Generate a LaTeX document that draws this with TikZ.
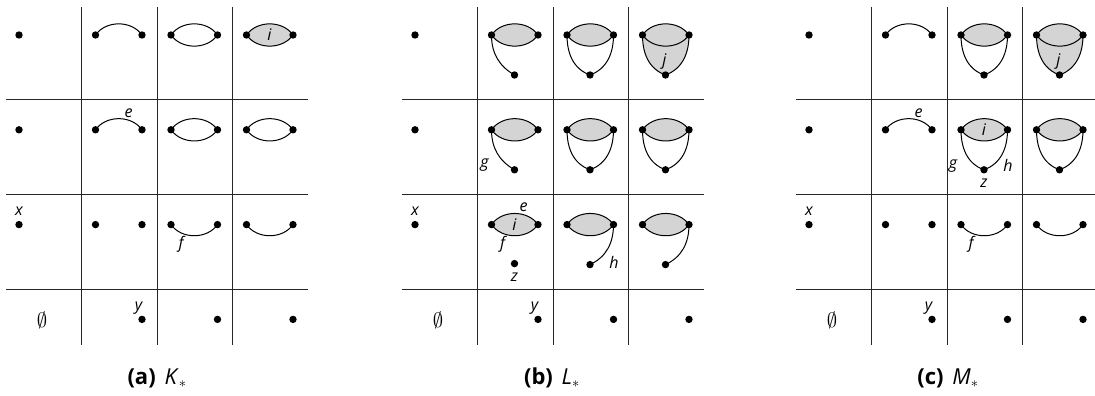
\documentclass[tikz,border=0pt]{standalone}
\usepackage{fontspec}
\setmainfont{Open Sans}
\usetikzlibrary{positioning}
\pgfdeclarelayer{bg}
\pgfsetlayers{bg,main}
\definecolor{lensgray}{gray}{0.83}
\newcommand\lblfont{\fontsize{16}{18}\selectfont\itshape}
\tikzset{
  dot/.style={circle,fill=black,inner sep=0pt,minimum size=7.4pt},
  edge/.style={line width=1pt},
  rule/.style={line width=1pt,black!85},
  lbl/.style={font=\lblfont,inner sep=0pt},
  caption/.style={font=\fontsize{22}{26}\selectfont,inner sep=0pt},
  cell/.style n args={3}{shift={({#1+75.5*#2},{391-94.8*#3})}},
}
% cell contents (local coordinates of one cell)
\newcommand\onedot{\node[dot] (s) at (13,-30) {};}
\newcommand\rightdot{\node[dot] (s) at (60.5,-30) {};}
\newcommand\lowdot{\node[dot] (b) at (37,-70) {};}
\newcommand\twodots{\node[dot] (l) at (14,-30) {}; \node[dot] (r) at (60.5,-30) {};}
\newcommand\uparc{\twodots
  \begin{pgfonlayer}{bg}\draw[edge] (l.center) to[bend left=55] (r.center);\end{pgfonlayer}}
\newcommand\downarc{\twodots
  \begin{pgfonlayer}{bg}\draw[edge] (l.center) to[bend right=55] (r.center);\end{pgfonlayer}}
\newcommand\openlens{\twodots
  \begin{pgfonlayer}{bg}\draw[edge] (l.center) to[bend left=55] (r.center) to[bend left=55] (l.center);\end{pgfonlayer}}
\newcommand\graylens{\twodots
  \begin{pgfonlayer}{bg}\filldraw[edge,fill=lensgray] (l.center) to[bend left=55] (r.center) to[bend left=55] (l.center);\end{pgfonlayer}}
\newcommand\hookleft{\graylens\lowdot
  \begin{pgfonlayer}{bg}\draw[edge] (l.center) to[out=-90,in=150] (b.center);\end{pgfonlayer}}
\newcommand\hookright{\graylens\lowdot
  \begin{pgfonlayer}{bg}\draw[edge] (r.center) to[out=-90,in=25] (b.center);\end{pgfonlayer}}
\newcommand\ushape{\graylens\lowdot
  \begin{pgfonlayer}{bg}\draw[edge] (l.center) to[out=-90,in=160] (b.center) to[out=20,in=-90] (r.center);\end{pgfonlayer}}
\newcommand\fullushape{\twodots\lowdot
  \begin{pgfonlayer}{bg}
    \filldraw[edge,fill=lensgray] (l.center) to[bend left=55] (r.center) to[out=-90,in=20] (b.center) to[out=160,in=-90] (l.center);
    \draw[edge] (l.center) to[bend right=55] (r.center);
  \end{pgfonlayer}}

\begin{document}
\begin{tikzpicture}[x=1pt,y=1pt]
\useasboundingbox (0,0) rectangle (1095,396);

% grids and the cells shared by all three panels
\foreach \ox in {6,402,796} {
  \foreach \c in {1,2,3} \draw[rule] ({\ox+75.5*\c},389) -- ({\ox+75.5*\c},51);
  \foreach \r in {1,2,3} \draw[rule] (\ox,{391-94.8*\r}) -- ({\ox+302},{391-94.8*\r});
  \foreach \r in {0,1,2} {\begin{scope}[cell={\ox}{0}{\r}] \onedot \end{scope}}
  \foreach \c in {1,2,3} {\begin{scope}[cell={\ox}{\c}{3}] \rightdot \end{scope}}
  \begin{scope}[cell={\ox}{0}{2}] \node[lbl] (lx) at (13,-17) {x}; \end{scope}
  \begin{scope}[cell={\ox}{1}{3}] \node[lbl] (ly) at (57,-19) {y}; \end{scope}
  \begin{scope}[cell={\ox}{0}{3}] \node[font=\fontsize{21}{24}\selectfont] (empty) at (36,-31) {$\emptyset$}; \end{scope}
}

% (a)
\begin{scope}[cell={6}{1}{0}] \uparc \end{scope}
\begin{scope}[cell={6}{2}{0}] \openlens \end{scope}
\begin{scope}[cell={6}{3}{0}] \graylens \node[lbl] (li) at (37,-30) {i}; \end{scope}
\begin{scope}[cell={6}{1}{1}] \uparc \node[lbl] (le) at (47,-13) {e}; \end{scope}
\begin{scope}[cell={6}{2}{1}] \openlens \end{scope}
\begin{scope}[cell={6}{3}{1}] \openlens \end{scope}
\begin{scope}[cell={6}{1}{2}] \twodots \end{scope}
\begin{scope}[cell={6}{2}{2}] \downarc \node[lbl] (lf) at (24,-50) {f}; \end{scope}
\begin{scope}[cell={6}{3}{2}] \downarc \end{scope}
\node[caption] (capa) at (157,18) {\textbf{(a)}\hspace{0.4em}\textit{K}$_\ast$};

% (b)
\begin{scope}[cell={402}{1}{0}] \hookleft \end{scope}
\begin{scope}[cell={402}{2}{0}] \ushape \end{scope}
\begin{scope}[cell={402}{3}{0}] \fullushape \node[lbl] (lj) at (36,-57) {j}; \end{scope}
\begin{scope}[cell={402}{1}{1}] \hookleft \node[lbl] (lg) at (7,-65) {g}; \end{scope}
\begin{scope}[cell={402}{2}{1}] \ushape \end{scope}
\begin{scope}[cell={402}{3}{1}] \ushape \end{scope}
\begin{scope}[cell={402}{1}{2}]
  \graylens \node[dot] (z) at (37,-69) {};
  \node[lbl] (li) at (37,-30) {i};
  \node[lbl] (le) at (46,-13) {e};
  \node[lbl] (lf) at (25,-50) {f};
  \node[lbl] (lz) at (37,-83) {z};
\end{scope}
\begin{scope}[cell={402}{2}{2}] \hookright \node[lbl] (lh) at (61,-68) {h}; \end{scope}
\begin{scope}[cell={402}{3}{2}] \hookright \end{scope}
\node[caption] (capb) at (552,18) {\textbf{(b)}\hspace{0.4em}\textit{L}$_\ast$};

% (c)
\begin{scope}[cell={796}{1}{0}] \uparc \end{scope}
\begin{scope}[cell={796}{2}{0}] \ushape \end{scope}
\begin{scope}[cell={796}{3}{0}] \fullushape \node[lbl] (lj) at (36,-57) {j}; \end{scope}
\begin{scope}[cell={796}{1}{1}] \uparc \node[lbl] (le) at (47,-13) {e}; \end{scope}
\begin{scope}[cell={796}{2}{1}]
  \ushape
  \node[lbl] (li) at (37,-30) {i};
  \node[lbl] (lg) at (6,-66) {g};
  \node[lbl] (lh) at (61,-66) {h};
  \node[lbl] (lz) at (37,-83) {z};
\end{scope}
\begin{scope}[cell={796}{3}{1}] \ushape \end{scope}
\begin{scope}[cell={796}{1}{2}] \twodots \end{scope}
\begin{scope}[cell={796}{2}{2}] \downarc \node[lbl] (lf) at (24,-50) {f}; \end{scope}
\begin{scope}[cell={796}{3}{2}] \downarc \end{scope}
\node[caption] (capc) at (948,18) {\textbf{(c)}\hspace{0.4em}\textit{M}$_\ast$};
\end{tikzpicture}
\end{document}
